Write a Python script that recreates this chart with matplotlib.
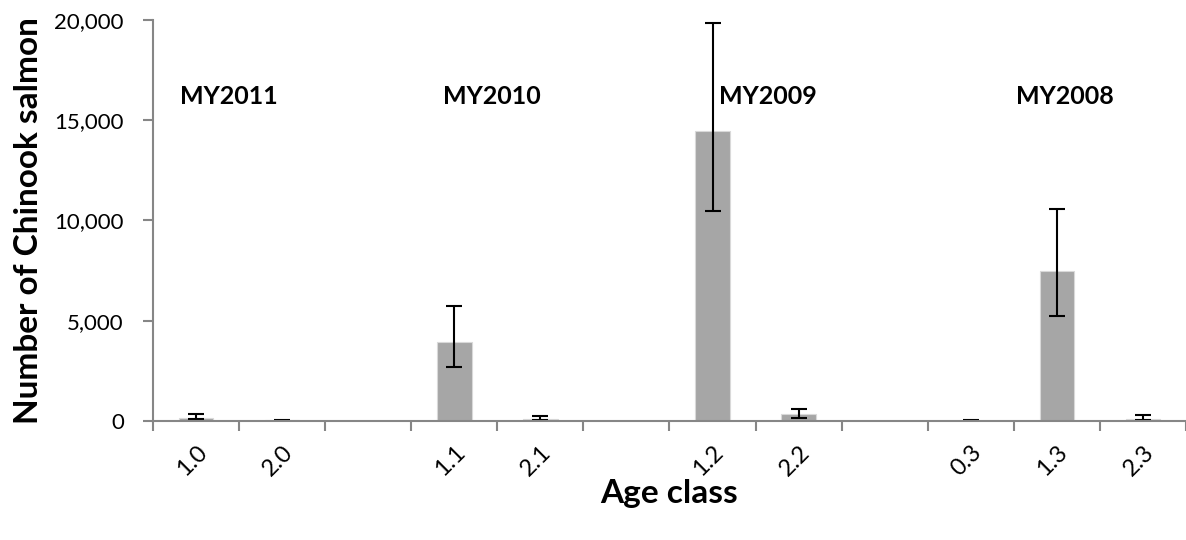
import numpy as np
import matplotlib.pyplot as plt
from matplotlib.ticker import FuncFormatter

plt.rcParams['font.family'] = ['Lato', 'DejaVu Sans']

# 年龄组及估计数量（空字符串为间隔）
age_class = ['1.0', '2.0', '', '1.1', '2.1', '', '1.2', '2.2', '', '0.3', '1.3', '2.3']
counts = [150, 40, np.nan, 3940, 90, np.nan, 14470, 330, np.nan, 20, 7480, 120]
err_low = [100, 20, np.nan, 2690, 30, np.nan, 10480, 130, np.nan, 5, 5240, 50]
err_high = [330, 60, np.nan, 5740, 260, np.nan, 19860, 620, np.nan, 40, 10560, 310]

brood_years = ['MY2011', 'MY2010', 'MY2009', 'MY2008']
brood_x = [-0.19, 2.87, 6.07, 9.52]

x = np.arange(len(age_class))
c = np.array(counts, dtype=float)
yerr = [c - np.array(err_low), np.array(err_high) - c]

fig = plt.figure(figsize=(11.86, 5.4), dpi=100)
ax = fig.add_axes([0.129, 0.2204, 0.871, 0.7426])

ax.bar(x, np.nan_to_num(c), width=0.4, color='#a6a6a6', edgecolor='#d9d9d9', linewidth=0.8)
ax.errorbar(x, c, yerr=yerr, fmt='none', ecolor='black', elinewidth=1.5,
            capsize=6, capthick=1.5)

for name, bx in zip(brood_years, brood_x):
    ax.text(bx, 16200, name, fontsize=18, fontweight='bold', ha='left', va='center')

ax.set_xlim(-0.5, len(age_class) - 0.5)
ax.set_ylim(0, 20000)
ax.set_yticks([0, 5000, 10000, 15000, 20000])
ax.yaxis.set_major_formatter(FuncFormatter(lambda v, p: f'{int(v):,}'))

ax.set_xticks(x)
ax.set_xticklabels(age_class, rotation=45, ha='right', rotation_mode='anchor')
ax.set_xticks(np.arange(-0.5, len(age_class)), minor=True)
ax.tick_params(axis='x', which='major', length=0, pad=15, labelsize=17)
ax.tick_params(axis='x', which='minor', length=7, width=1.5, color='#868686')
ax.tick_params(axis='y', length=7, width=1.5, color='#868686', labelsize=16, pad=14)

for s in ['top', 'right']:
    ax.spines[s].set_visible(False)
for s in ['left', 'bottom']:
    ax.spines[s].set_color('#868686')
    ax.spines[s].set_linewidth(1.5)

ax.set_xlabel('Age class', fontsize=24, fontweight='bold')
ax.xaxis.set_label_coords(0.5, -0.145)
ax.set_ylabel('Number of Chinook salmon', fontsize=24, fontweight='bold', labelpad=8)

plt.savefig('out.png', dpi=100)
